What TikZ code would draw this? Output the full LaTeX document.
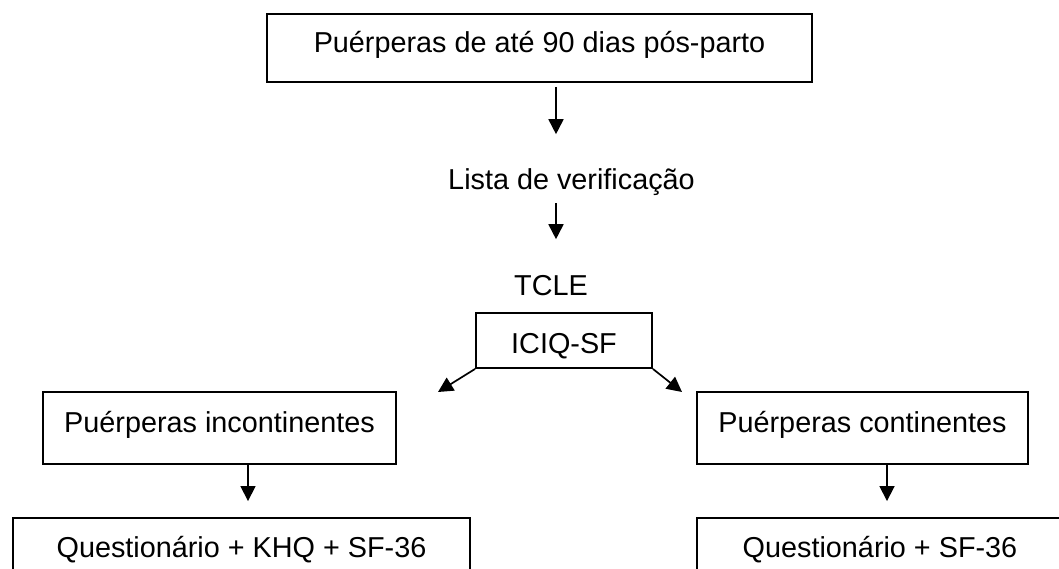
\documentclass[tikz,border=0pt]{standalone}
\usepackage{fontspec}
\setmainfont{Liberation Sans}
\usetikzlibrary{arrows.meta,calc}
\begin{document}
\begin{tikzpicture}[x=1pt,y=-1pt,
  every node/.style={font=\fontsize{28.8}{34}\selectfont, inner sep=0pt},
  box/.style={draw, line width=1.9pt, text height=20.6pt},
  txt/.style={text height=20.6pt, text depth=0pt},
  arr/.style={line width=1.7pt, -{Triangle[length=15pt,width=15pt]}}]
\useasboundingbox (0,0) rectangle (1059,569);
\clip (0,0) rectangle (1059,569);
\node[box, text depth=10.6pt, minimum width=545pt, minimum height=68pt] (top) at (539.5,48) {Puérperas de até 90 dias pós-parto};
\node[txt, anchor=base] (lista) at (571.5,190) {Lista de verificação};
\node[txt, anchor=base] (tcle) at (551,295) {TCLE};
\node[box, text height=25pt, text depth=0pt, minimum width=176pt, minimum height=55pt] (iciq) at (564,340.5) {ICIQ-SF};
\node[box, text depth=12.6pt, minimum width=353pt, minimum height=72pt] (inc) at (219.5,428) {Puérperas incontinentes};
\node[box, text depth=12.6pt, minimum width=331pt, minimum height=72pt] (cont) at (862.5,428) {Puérperas continentes};
\node[box, text depth=12.6pt, minimum width=457pt, minimum height=70pt] (q1) at (241.5,553) {Questionário + KHQ + SF-36};
\node[box, text depth=12.6pt, minimum width=366pt, minimum height=70pt] (q2) at (880,553) {Questionário + SF-36};
\coordinate (ax1) at (556,0);
\coordinate (ax2) at (248,0);
\coordinate (ax3) at (887,0);
\coordinate (lt) at (438,392);
\coordinate (rt) at (682,392);
\draw[arr, shorten <=4pt, shorten >=35pt] (top.south -| ax1) -- (lista.north -| ax1);
\draw[arr, shorten <=13pt, shorten >=35pt] (lista.south -| ax1) -- (tcle.north -| ax1);
\draw[arr] (iciq.south west) -- (lt);
\draw[arr] (iciq.south east) -- (rt);
\draw[arr, shorten >=16pt] (inc.south -| ax2) -- (q1.north -| ax2);
\draw[arr, shorten >=16pt] (cont.south -| ax3) -- (q2.north -| ax3);
\end{tikzpicture}
\end{document}
